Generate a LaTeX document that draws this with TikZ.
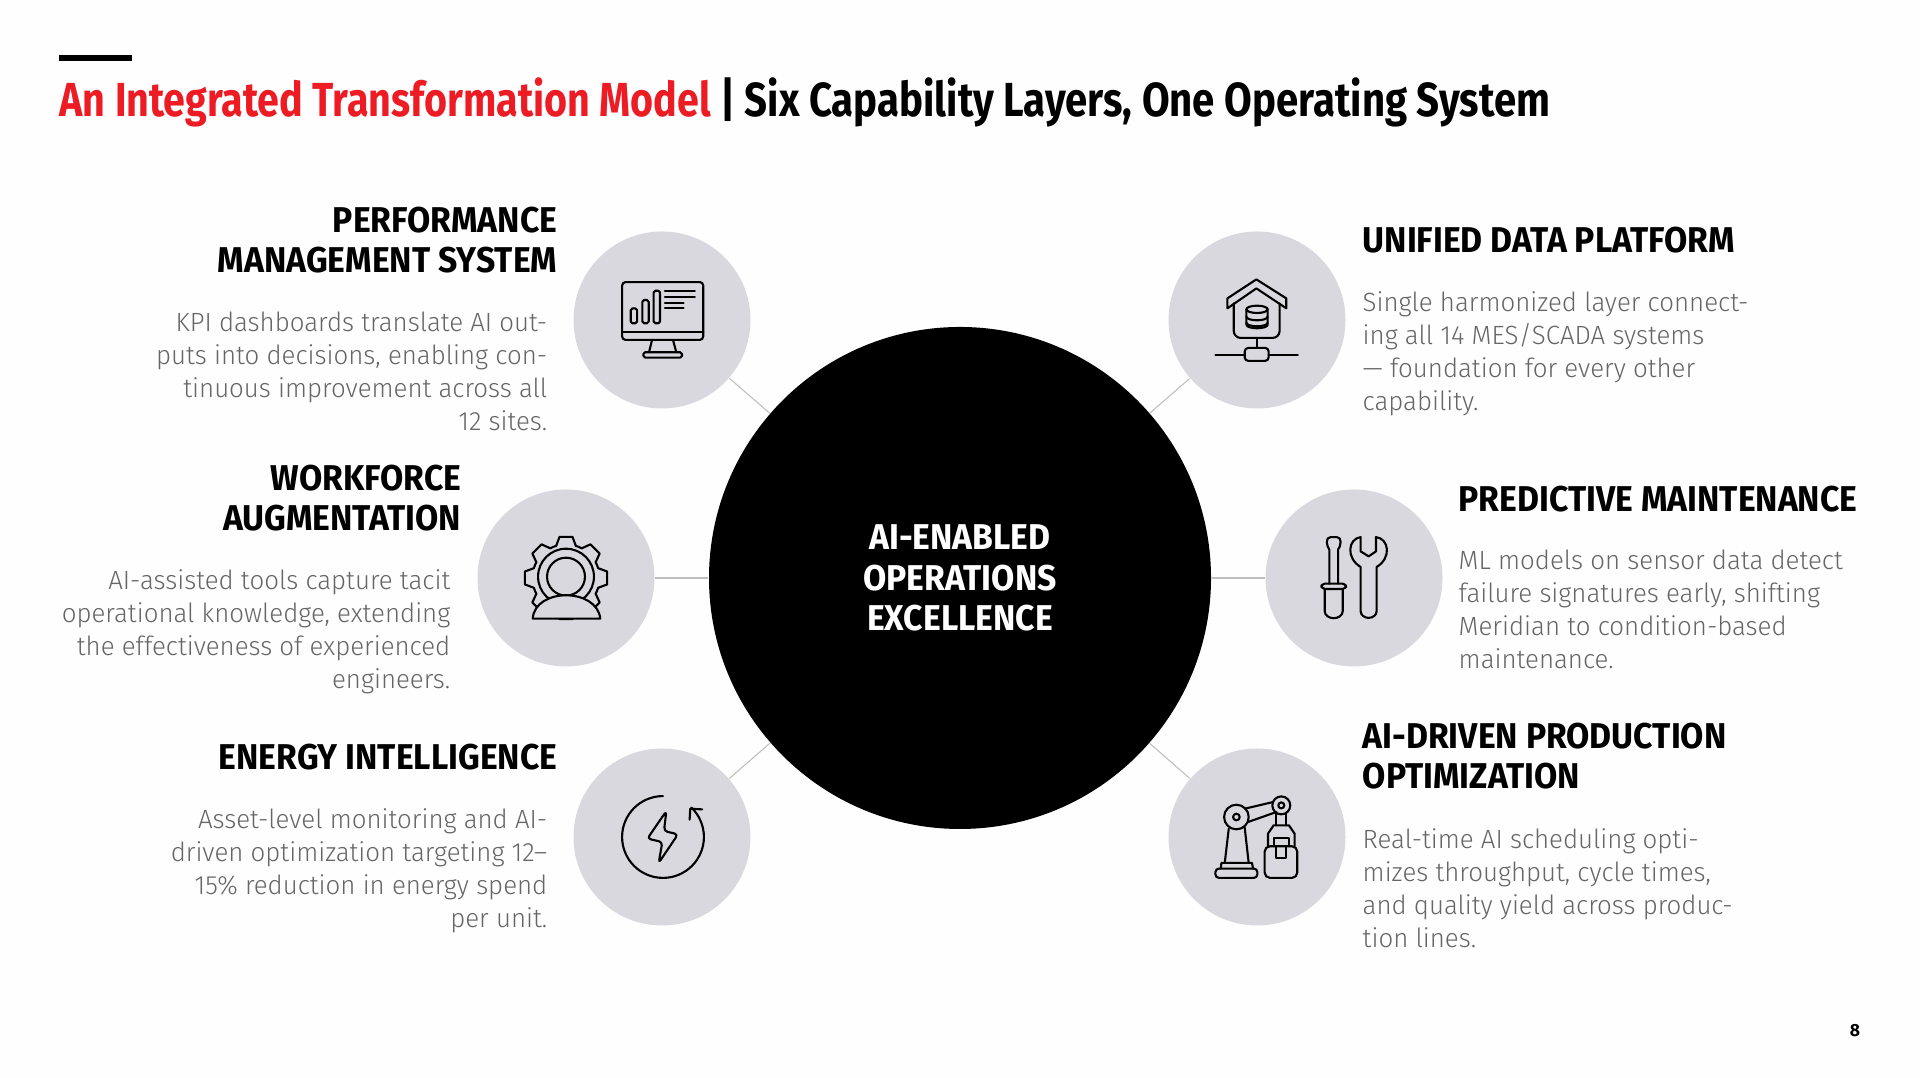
\documentclass[tikz,border=0pt]{standalone}
\usepackage{fontspec}
\usepackage{xcolor}
\usetikzlibrary{positioning}
\setmainfont{Fira Sans}
\newfontfamily\titlefont{Fira Sans}[FakeStretch=0.84]
\newfontfamily\titleredfont{Fira Sans}[FakeStretch=0.825]
\newfontfamily\headfont{Fira Sans}[FakeStretch=0.94]
\newfontfamily\copyfont{Fira Sans Light}[FakeStretch=0.98]
\definecolor{ballgrey}{RGB}{218,216,223}
\definecolor{copygrey}{RGB}{102,102,102}
\definecolor{linkgrey}{RGB}{190,190,190}
\definecolor{titlered}{RGB}{237,28,36}
\definecolor{pagewhite}{RGB}{254,254,254}
\begin{document}
\begin{tikzpicture}[
  iconball/.style={circle, fill=ballgrey, inner sep=0pt, minimum size=1.77cm},
  hub/.style={circle, fill=black, inner sep=0pt, minimum size=5.02cm, text=white, align=center, font=\headfont\bfseries\fontsize{10.2}{11.5}\selectfont},
  link/.style={draw=linkgrey, line width=0.3pt},
  headtext/.style={inner sep=0pt, font=\headfont\bfseries\fontsize{10.2}{11.5}\selectfont},
  copytext/.style={inner sep=0pt, text=copygrey, font=\copyfont\fontsize{7.5}{9.45}\selectfont},
  icon/.style={x=0.00333cm, y=0.00333cm, line width=0.6pt, line join=round, line cap=round}
]
\fill[pagewhite] (0,0) rectangle (19.2,10.78);
\fill[black] (0.59,10.17) rectangle (1.32,10.23);
\node[inner sep=0pt, anchor=base west, font=\titlefont\bfseries\fontsize{13.6}{16}\selectfont] (title) at (0.59,9.61) {\textcolor{titlered}{\titleredfont\bfseries An Integrated Transformation Model} | Six Capability Layers, One Operating System};

\node[hub] (core) at (9.6,5) {AI-ENABLED\\OPERATIONS\\EXCELLENCE};
\node[iconball] (perf) at (6.62,7.58) {};
\node[iconball] (data) at (12.57,7.58) {};
\node[iconball] (work) at (5.66,5) {};
\node[iconball] (pred) at (13.54,5) {};
\node[iconball] (energy) at (6.62,2.41) {};
\node[iconball] (prod) at (12.57,2.41) {};
\draw[link] (perf) -- (core);
\draw[link] (data) -- (core);
\draw[link] (work) -- (core);
\draw[link] (pred) -- (core);
\draw[link] (energy) -- (core);
\draw[link] (prod) -- (core);

\node[headtext, align=right, anchor=base east] (perfhead) at (5.58,8.05) {PERFORMANCE\\MANAGEMENT SYSTEM};
\node[copytext, align=right, anchor=base east] (perfcopy) at (5.48,6.47) {KPI dashboards translate AI out-\\puts into decisions, enabling con-\\tinuous improvement across all\\12 sites.};
\node[headtext, align=right, anchor=base east] (workhead) at (4.62,5.47) {WORKFORCE\\AUGMENTATION};
\node[copytext, align=right, anchor=base east] (workcopy) at (4.51,3.89) {AI-assisted tools capture tacit\\operational knowledge, extending\\the effectiveness of experienced\\engineers.};
\node[headtext, align=right, anchor=base east] (energyhead) at (5.58,3.08) {ENERGY INTELLIGENCE};
\node[copytext, align=right, anchor=base east] (energycopy) at (5.48,1.5) {Asset-level monitoring and AI-\\driven optimization targeting 12–\\15\% reduction in energy spend\\per unit.};
\node[headtext, align=left, anchor=base west] (datahead) at (13.62,8.25) {UNIFIED DATA PLATFORM};
\node[copytext, align=left, anchor=base west] (datacopy) at (13.62,6.67) {Single harmonized layer connect-\\ing all 14 MES/SCADA systems\\— foundation for every other\\capability.};
\node[headtext, align=left, anchor=base west] (predhead) at (14.58,5.66) {PREDICTIVE MAINTENANCE};
\node[copytext, align=left, anchor=base west] (predcopy) at (14.58,4.09) {ML models on sensor data detect\\failure signatures early, shifting\\Meridian to condition-based\\maintenance.};
\node[headtext, align=left, anchor=base west] (prodhead) at (13.62,2.89) {AI-DRIVEN PRODUCTION\\OPTIMIZATION};
\node[copytext, align=left, anchor=base west] (prodcopy) at (13.62,1.3) {Real-time AI scheduling opti-\\mizes throughput, cycle times,\\and quality yield across produc-\\tion lines.};
\node[inner sep=0pt, font=\bfseries\fontsize{5}{6}\selectfont] (pagenum) at (18.55,0.47) {8};

\begin{scope}[shift={(perf.center)}, icon]
\draw[rounded corners=1pt] (-120,114) rectangle (124,-60);
\draw (-120,-35) -- (124,-35);
\draw[rounded corners=0.5pt] (-94,-10) rectangle (-75,35);
\draw[rounded corners=0.5pt] (-59,-10) rectangle (-40,60);
\draw[rounded corners=0.5pt] (-25,-10) rectangle (-6,88);
\foreach \yy/\xx in {88/99,70/99,52/65,35/65} \draw (9,\yy) -- (\xx,\yy);
\draw (-30,-60) -- (-39,-97);
\draw (33,-60) -- (43,-97);
\draw[rounded corners=0.5pt] (-56,-97) rectangle (60,-113);
\end{scope}

\begin{scope}[shift={(data.center)}, icon]
\draw (-89,35) -- (-89,65) -- (-2,122) -- (88,65) -- (88,35) -- (-2,95) -- cycle;
\draw[rounded corners=2pt] (-70,50) -- (-70,-54) -- (68,-54) -- (68,50);
\draw (0,32) ellipse (32 and 11);
\draw (-32,32) -- (-32,-14) arc (180:360:32 and 11) -- (32,32);
\draw (-32,10) arc (180:360:32 and 11);
\draw (-32,-8) arc (180:360:32 and 11);
\draw (0,-54) -- (0,-84);
\draw[rounded corners=1pt] (-37,-84) rectangle (35,-123);
\draw (-125,-104) -- (-37,-104);
\draw (35,-104) -- (123,-104);
\end{scope}

\begin{scope}[shift={(work.center)}, icon]
\foreach \aa in {0,45,...,315}
  \draw (\aa-17:101) -- (\aa-9:125) -- (\aa+9:125) -- (\aa+17:101) arc (\aa+17:\aa+28:101);
\draw (0,4) circle (84);
\draw (0,4) circle (57);
\draw[fill=ballgrey] (-100,-122) .. controls (-97,-75) and (-47,-52) .. (0,-52) .. controls (48,-52) and (98,-75) .. (103,-122) -- cycle;
\end{scope}

\begin{scope}[shift={(pred.center)}, icon]
\draw (-74,-17) -- (-74,85) .. controls (-82,95) and (-88,123) .. (-70,123) -- (-52,123) .. controls (-34,123) and (-40,95) .. (-48,85) -- (-48,-17);
\draw[rounded corners=1pt] (-98,-17) rectangle (-24,-33);
\draw (-88,-33) -- (-88,-100) arc (180:360:27 and 21) -- (-34,-33);
\draw (20,-100) -- (20,33) .. controls (-25,60) and (-18,118) .. (20,123) -- (20,80) -- (44,65) -- (66,80) -- (66,123) .. controls (106,118) and (113,60) .. (68,33) -- (68,-100) arc (360:180:24 and 20);
\end{scope}

\begin{scope}[shift={(energy.center)}, icon]
\draw (3,123) arc (90:406:123);
\draw (83,52) -- (85,85) -- (121,83);
\draw[rounded corners=1pt] (13,78) -- (-44,-5) -- (1,-15) -- (-10,-78) -- (48,8) -- (6,18) -- cycle;
\end{scope}

\begin{scope}[shift={(prod.center)}, icon]
\draw (-62,60) circle (37);
\draw (-62,60) circle (10);
\draw (73,95) circle (27);
\draw (73,95) circle (9);
\draw (-37,85) -- (48,105);
\draw (-27,45) -- (58,75);
\draw (-85,25) -- (-97,-78);
\draw (-37,28) -- (-25,-78);
\draw (-109,-95) -- (-107,-78) -- (-15,-78) -- (-12,-95);
\draw[rounded corners=1pt] (-125,-95) rectangle (1,-123);
\draw (56,70) -- (56,35);
\draw (88,70) -- (88,35);
\draw (33,-28) -- (33,10) -- (50,35) -- (96,35) -- (113,10) -- (113,-28);
\draw[rounded corners=1.5pt] (23,-28) rectangle (121,-123);
\draw (50,-28) -- (50,-2) -- (95,-2) -- (95,-28);
\draw (58,-28) -- (58,-62) -- (86,-62) -- (86,-28);
\end{scope}
\end{tikzpicture}
\end{document}
